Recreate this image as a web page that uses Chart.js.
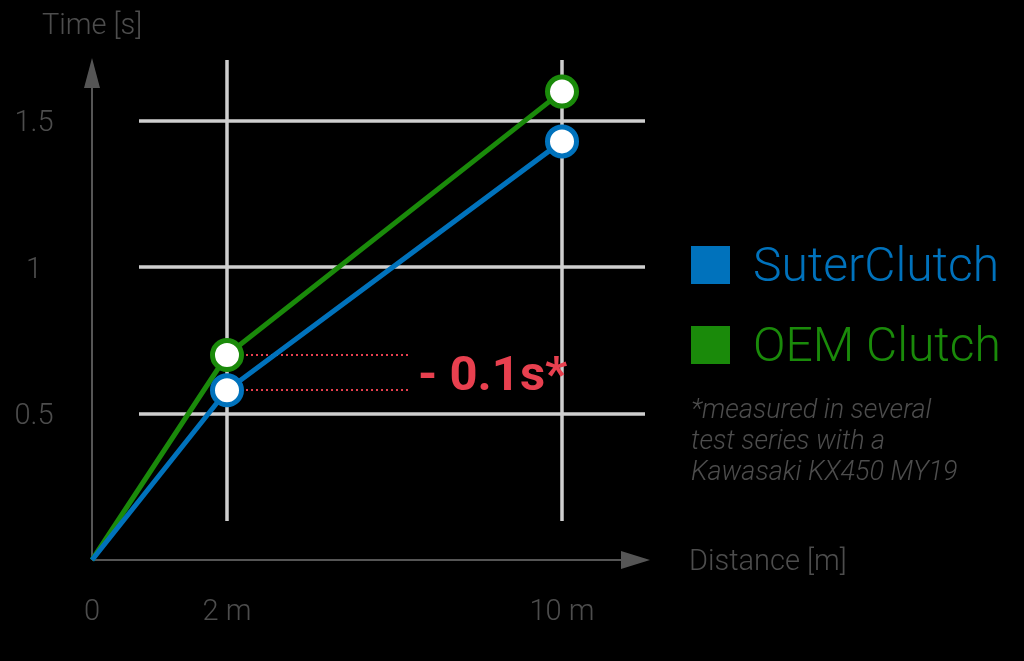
<!DOCTYPE html>
<html>
<head>
<meta charset="utf-8">
<script src="https://cdn.jsdelivr.net/npm/chart.js@4.4.1/dist/chart.umd.min.js"></script>
<style>
  html, body { margin: 0; padding: 0; background: #000; }
  canvas { display: block; }
</style>
</head>
<body>
<canvas id="clutch" width="1024" height="661"></canvas>
<script>
// values
const distances = [0, 2, 10];
const distanceLabels = ['0', '2 m', '10 m'];
const suterTimes = [0, 0.58, 1.43];
const oemTimes = [0, 0.70, 1.60];
const timeTicks = [0.5, 1, 1.5];
const timeTickLabels = ['0.5', '1', '1.5'];

const COLORS = {
  suter: '#0072bc',
  oem:   '#1a8a0a',
  grid:  '#cfcfcf',
  axis:  '#555555',
  label: '#4d4d4d',
  red:   '#e8404f',
};
const FONT = "Roboto, 'Open Sans', sans-serif";

// linear scale with non-uniform spacing between break values
class BreakScale extends Chart.LinearScale {
  getPixelForValue(value) {
    if (value === null || value === undefined || isNaN(value)) return NaN;
    const b = this.options.breakValues;
    const d = this.options.breakDecimals;
    let i = 0;
    while (i < b.length - 2 && value > b[i + 1]) i++;
    const t = (value - b[i]) / (b[i + 1] - b[i]);
    return this.getPixelForDecimal(d[i] + t * (d[i + 1] - d[i]));
  }
}
BreakScale.id = 'breaks';
BreakScale.defaults = Chart.LinearScale.defaults;
Chart.register(BreakScale);

function toPoints(ys) {
  return distances.map((x, i) => ({ x, y: ys[i] }));
}

function arrow(ctx, x1, y1, x2, y2, head, half) {
  const a = Math.atan2(y2 - y1, x2 - x1);
  const bx = x2 - head * Math.cos(a), by = y2 - head * Math.sin(a);
  ctx.beginPath();
  ctx.moveTo(x1, y1);
  ctx.lineTo(bx, by);
  ctx.stroke();
  ctx.beginPath();
  ctx.moveTo(x2, y2);
  ctx.lineTo(bx + half * Math.sin(a), by - half * Math.cos(a));
  ctx.lineTo(bx - half * Math.sin(a), by + half * Math.cos(a));
  ctx.closePath();
  ctx.fill();
}

const decorPlugin = {
  id: 'decor',
  beforeDatasetsDraw(chart) {
    const { ctx, scales: { x, y }, chartArea } = chart;
    ctx.save();
    // grid
    ctx.strokeStyle = COLORS.grid;
    ctx.lineWidth = 3.5;
    timeTicks.forEach(v => {
      const py = Math.round(y.getPixelForValue(v));
      ctx.beginPath();
      ctx.moveTo(139, py);
      ctx.lineTo(645, py);
      ctx.stroke();
    });
    distances.forEach(v => {
      if (v === 0) return;
      const px = Math.round(x.getPixelForValue(v));
      ctx.beginPath();
      ctx.moveTo(px, chartArea.top);
      ctx.lineTo(px, 521);
      ctx.stroke();
    });
    // axes with arrows
    const ox = x.getPixelForValue(0), oy = y.getPixelForValue(0);
    ctx.strokeStyle = COLORS.axis;
    ctx.fillStyle = COLORS.axis;
    ctx.lineWidth = 2;
    arrow(ctx, ox, oy, ox, chartArea.top - 2, 30, 8);
    arrow(ctx, ox, oy, chartArea.right, oy, 29, 9);

    // tick labels
    ctx.fillStyle = COLORS.label;
    ctx.font = '300 29px ' + FONT;
    ctx.textAlign = 'center';
    ctx.textBaseline = 'middle';
    timeTicks.forEach((v, i) => ctx.fillText(timeTickLabels[i], 34, y.getPixelForValue(v) + 3));
    distances.forEach((v, i) => ctx.fillText(distanceLabels[i], x.getPixelForValue(v), 613));
    ctx.textAlign = 'left';
    ctx.fillText('Time [s]', 42, 27);
    ctx.fillText('Distance [m]', 689, 563);

    // difference markers at 2 m
    const px2 = x.getPixelForValue(distances[1]);
    ctx.strokeStyle = COLORS.red;
    ctx.lineWidth = 2;
    ctx.setLineDash([2, 3]);
    [oemTimes[1], suterTimes[1]].forEach(v => {
      const py = Math.round(y.getPixelForValue(v));
      ctx.beginPath();
      ctx.moveTo(px2 + 19, py);
      ctx.lineTo(409, py);
      ctx.stroke();
    });
    ctx.restore();
  },
  afterDraw(chart) {
    const { ctx } = chart;
    ctx.save();
    ctx.fillStyle = COLORS.red;
    ctx.font = 'bold 49px ' + FONT;
    ctx.textAlign = 'left';
    ctx.textBaseline = 'middle';
    ctx.fillText('- 0.1s*', 418, 378);

    // legend
    const items = [
      { label: 'SuterClutch', color: COLORS.suter, cy: 265 },
      { label: 'OEM Clutch', color: COLORS.oem, cy: 345 },
    ];
    ctx.font = '300 48px ' + FONT;
    items.forEach(it => {
      ctx.fillStyle = it.color;
      ctx.fillRect(691, it.cy - 19, 39, 38);
      ctx.fillText(it.label, 753, it.cy + 4);
    });

    // footnote
    ctx.fillStyle = COLORS.label;
    ctx.font = 'italic 300 27px ' + FONT;
    ['*measured in several', 'test series with a', 'Kawasaki KX450 MY19'].forEach((t, i) => {
      ctx.fillText(t, 691, 411 + i * 31);
    });
    ctx.restore();
  },
};

const pointRadius = c => (c.parsed && c.parsed.x === 0 ? 0 : 14.5);

new Chart(document.getElementById('clutch'), {
  type: 'line',
  data: {
    datasets: [
      {
        label: 'SuterClutch',
        data: toPoints(suterTimes),
        borderColor: COLORS.suter,
        borderWidth: 5,
        pointBackgroundColor: '#ffffff',
        pointBorderColor: COLORS.suter,
        pointBorderWidth: 5,
        pointRadius,
        tension: 0,
        clip: false,
      },
      {
        label: 'OEM Clutch',
        data: toPoints(oemTimes),
        borderColor: COLORS.oem,
        borderWidth: 5,
        pointBackgroundColor: '#ffffff',
        pointBorderColor: COLORS.oem,
        pointBorderWidth: 5,
        pointRadius,
        tension: 0,
        clip: false,
      },
    ],
  },
  options: {
    responsive: false,
    animation: false,
    devicePixelRatio: 1,
    layout: { padding: { left: 92, top: 60, right: 374, bottom: 101 } },
    plugins: {
      legend: { display: false },
      tooltip: { enabled: false },
    },
    scales: {
      x: {
        type: 'breaks',
        display: false,
        min: 0,
        max: 12,
        breakValues: [0, 2, 10, 12],
        breakDecimals: [0, 135 / 558, 470 / 558, 1],
      },
      y: {
        type: 'linear',
        display: false,
        min: 0,
        max: 1.708,
      },
    },
  },
  plugins: [decorPlugin],
});
</script>
</body>
</html>
